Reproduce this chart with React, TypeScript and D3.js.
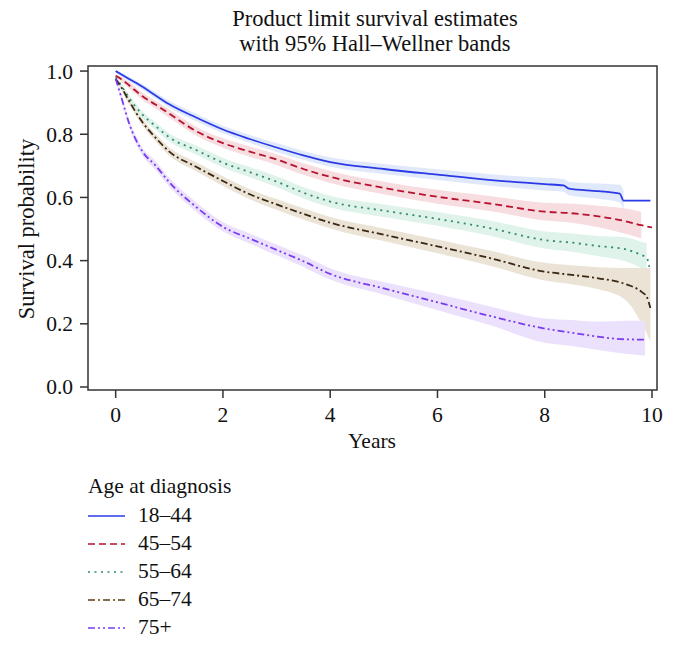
import React from "react";
import * as d3 from "d3";

// ---------- data ----------
const groups = ["18–44", "45–54", "55–64", "65–74", "75+"];
const xTicks = [0, 2, 4, 6, 8, 10];
const yTicks = [0.0, 0.2, 0.4, 0.6, 0.8, 1.0];

const t18 = [0, 0.1, 0.25, 0.5, 0.75, 1, 1.5, 2, 2.5, 3, 3.5, 4, 5, 6, 7, 8, 8.35, 8.45, 9, 9.4, 9.47, 9.97];
const s18 = [1.0, 0.99, 0.975, 0.95, 0.922, 0.895, 0.853, 0.815, 0.785, 0.758, 0.733, 0.712, 0.69, 0.672, 0.655, 0.642, 0.638, 0.628, 0.62, 0.612, 0.59, 0.59];
const lo18 = [0.997, 0.984, 0.967, 0.941, 0.912, 0.884, 0.841, 0.803, 0.772, 0.744, 0.719, 0.697, 0.674, 0.655, 0.637, 0.622, 0.618, 0.607, 0.596, 0.584, 0.56];
const hi18 = [1.0, 0.996, 0.983, 0.959, 0.932, 0.906, 0.865, 0.827, 0.798, 0.772, 0.747, 0.727, 0.706, 0.689, 0.673, 0.662, 0.658, 0.649, 0.644, 0.64, 0.62];

const t45 = [0, 0.1, 0.25, 0.5, 0.75, 1, 1.5, 2, 2.5, 3, 3.5, 4, 5, 6, 7, 8, 8.5, 9, 9.5, 9.8, 10];
const s45 = [0.985, 0.975, 0.955, 0.92, 0.893, 0.865, 0.81, 0.772, 0.745, 0.72, 0.69, 0.665, 0.63, 0.602, 0.58, 0.555, 0.55, 0.54, 0.525, 0.512, 0.505];
const lo45 = [0.98, 0.967, 0.945, 0.909, 0.881, 0.852, 0.796, 0.757, 0.729, 0.703, 0.672, 0.646, 0.61, 0.58, 0.556, 0.527, 0.52, 0.506, 0.485, 0.47];
const hi45 = [0.99, 0.983, 0.965, 0.931, 0.905, 0.878, 0.824, 0.787, 0.761, 0.737, 0.708, 0.684, 0.65, 0.624, 0.604, 0.583, 0.58, 0.574, 0.565, 0.554];

const t55 = [0, 0.1, 0.25, 0.5, 0.75, 1, 1.5, 2, 2.5, 3, 3.5, 4, 5, 6, 7, 8, 8.5, 9, 9.5, 9.8, 9.9, 9.95];
const s55 = [0.98, 0.955, 0.915, 0.862, 0.825, 0.79, 0.75, 0.71, 0.68, 0.65, 0.615, 0.587, 0.558, 0.532, 0.502, 0.465, 0.457, 0.446, 0.436, 0.418, 0.41, 0.38];
const lo55 = [0.975, 0.947, 0.905, 0.851, 0.813, 0.777, 0.736, 0.695, 0.664, 0.633, 0.597, 0.569, 0.538, 0.51, 0.478, 0.438, 0.428, 0.414, 0.398, 0.376, 0.365];
const hi55 = [0.985, 0.963, 0.925, 0.873, 0.837, 0.803, 0.764, 0.725, 0.696, 0.667, 0.633, 0.605, 0.578, 0.554, 0.526, 0.492, 0.486, 0.478, 0.474, 0.46, 0.455];

const t65 = [0, 0.1, 0.25, 0.5, 0.75, 1, 1.5, 2, 2.5, 3, 3.5, 4, 5, 6, 7, 8, 8.5, 9, 9.5, 9.8, 9.9, 9.97];
const s65 = [0.975, 0.95, 0.905, 0.838, 0.788, 0.745, 0.697, 0.652, 0.61, 0.578, 0.548, 0.52, 0.482, 0.445, 0.407, 0.365, 0.355, 0.344, 0.326, 0.302, 0.286, 0.25];
const lo65 = [0.97, 0.942, 0.895, 0.827, 0.776, 0.732, 0.683, 0.637, 0.594, 0.561, 0.53, 0.502, 0.462, 0.423, 0.383, 0.337, 0.325, 0.309, 0.276, 0.203, 0.17, 0.145];
const hi65 = [0.98, 0.958, 0.915, 0.849, 0.8, 0.758, 0.711, 0.667, 0.626, 0.595, 0.566, 0.538, 0.502, 0.467, 0.431, 0.393, 0.385, 0.379, 0.377, 0.377, 0.377, 0.377];

const t75 = [0, 0.1, 0.25, 0.5, 0.75, 1, 1.5, 2, 2.5, 3, 3.5, 4, 5, 6, 7, 8, 8.5, 9, 9.5, 9.87];
const s75 = [0.975, 0.92, 0.835, 0.745, 0.7, 0.648, 0.57, 0.507, 0.47, 0.434, 0.398, 0.358, 0.312, 0.268, 0.224, 0.185, 0.172, 0.159, 0.151, 0.15];
const lo75 = [0.97, 0.91, 0.823, 0.732, 0.686, 0.634, 0.555, 0.492, 0.454, 0.417, 0.38, 0.34, 0.292, 0.243, 0.195, 0.14, 0.13, 0.117, 0.105, 0.1];
const hi75 = [0.98, 0.93, 0.847, 0.758, 0.714, 0.662, 0.585, 0.522, 0.486, 0.451, 0.416, 0.376, 0.332, 0.294, 0.254, 0.217, 0.212, 0.207, 0.21, 0.21];

const lineColors = ["#2a3ae6", "#b8122f", "#2e8b6c", "#3a2814", "#7a3cf0"];
const legendColors = ["#2a3ae6", "#b8122f", "#2e8b6c", "#5e3e16", "#7a3cf0"];
const bandColors = ["#e0e8fc", "#f7dde0", "#dff3ea", "#ebe3d6", "#ece1fd"];
const dashes = ["", "7,4", "2,4.5", "7,3,2,3", "7,3,2,3,2,3"];

const times = [t18, t45, t55, t65, t75];
const survs = [s18, s45, s55, s65, s75];
const lows = [lo18, lo45, lo55, lo65, lo75];
const highs = [hi18, hi45, hi55, hi65, hi75];

// ---------- layout ----------
const W = 675;
const H = 647;
const box = { left: 88, right: 657, top: 66, bottom: 390 };
const FONT = "'Liberation Serif', 'DejaVu Serif', serif";
const FS = 21.5;

export default function App() {
  const x = d3.scaleLinear().domain([-0.516, 10.093]).range([box.left, box.right]);
  const y = d3.scaleLinear().domain([-0.0095, 1.016]).range([box.bottom, box.top]);

  const line = d3
    .line<[number, number]>()
    .x((d) => x(d[0]))
    .y((d) => y(d[1]))
    .curve(d3.curveMonotoneX);

  const area = d3
    .area<[number, number, number]>()
    .x((d) => x(d[0]))
    .y0((d) => y(d[1]))
    .y1((d) => y(d[2]))
    .curve(d3.curveMonotoneX);

  const bands = groups.map((_, g) =>
    lows[g].map((lo, i) => [times[g][i], lo, highs[g][i]] as [number, number, number])
  );
  const curves = groups.map((_, g) =>
    survs[g].map((s, i) => [times[g][i], s] as [number, number])
  );

  return (
    <svg
      width={W}
      height={H}
      style={{ position: "absolute", left: 0, top: 0, background: "#fff" }}
      fontFamily={FONT}
    >
      <rect x={0} y={0} width={W} height={H} fill="#fff" />
      {/* title */}
      <text x={375} y={26} textAnchor="middle" fontSize={22.5} fill="#111">
        Product limit survival estimates
      </text>
      <text x={375} y={51} textAnchor="middle" fontSize={22.5} fill="#111">
        with 95% Hall–Wellner bands
      </text>

      {/* bands */}
      {bands.map((b, g) => (
        <path key={"b" + g} d={area(b) || ""} fill={bandColors[g]} stroke="none" />
      ))}
      {/* curves */}
      {curves.map((c, g) => (
        <path
          key={"c" + g}
          d={line(c) || ""}
          fill="none"
          stroke={lineColors[g]}
          strokeWidth={1.8}
          strokeDasharray={dashes[g] || undefined}
        />
      ))}

      {/* box */}
      <rect
        x={box.left}
        y={box.top}
        width={box.right - box.left}
        height={box.bottom - box.top}
        fill="none"
        stroke="#333"
        strokeWidth={1.5}
      />

      {/* y axis */}
      {yTicks.map((v) => (
        <g key={"y" + v}>
          <line x1={box.left - 8} x2={box.left} y1={y(v)} y2={y(v)} stroke="#333" strokeWidth={1.5} />
          <text x={73} y={y(v) + 7.5} textAnchor="end" fontSize={FS} fill="#111">
            {v.toFixed(1)}
          </text>
        </g>
      ))}
      <text
        transform={`translate(34,229) rotate(-90)`}
        textAnchor="middle"
        fontSize={22.5}
        fill="#111"
      >
        Survival probability
      </text>

      {/* x axis */}
      {xTicks.map((v) => (
        <g key={"x" + v}>
          <line x1={x(v)} x2={x(v)} y1={box.bottom} y2={box.bottom + 8} stroke="#333" strokeWidth={1.5} />
          <text x={x(v)} y={422} textAnchor="middle" fontSize={FS} fill="#111">
            {v}
          </text>
        </g>
      ))}
      <text x={372} y={448} textAnchor="middle" fontSize={FS} fill="#111">
        Years
      </text>

      {/* legend */}
      <text x={88} y={493} fontSize={FS} fill="#111">
        Age at diagnosis
      </text>
      {groups.map((name, g) => (
        <g key={"l" + g}>
          <line
            x1={88}
            x2={125}
            y1={516 + g * 28}
            y2={516 + g * 28}
            stroke={legendColors[g]}
            strokeWidth={1.6}
            strokeDasharray={dashes[g] || undefined}
          />
          <text x={138} y={522 + g * 28} fontSize={FS} fill="#111">
            {name}
          </text>
        </g>
      ))}
    </svg>
  );
}
